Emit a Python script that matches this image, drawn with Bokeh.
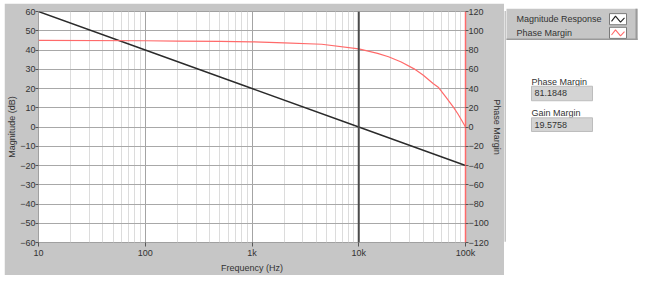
from bokeh.plotting import figure
from bokeh.layouts import row
from bokeh.models import Range1d, LinearAxis, FixedTicker, Span
from bokeh.core.properties import value
from bokeh.embed import file_html
from bokeh.resources import INLINE

# ---- data ----
freq_mag = [10, 100, 1000, 10000, 100000]
mag_db = [60, 40, 20, 0, -20]

freq_phase = [10, 100, 200, 500, 1000, 2000, 4500, 10000, 15000, 19000,
              25000, 33000, 40000, 50000, 56000, 65000, 77000, 85000, 92000, 100000]
phase_deg = [89.9, 89.6, 89.3, 89.0, 88.5, 87.5, 86.0, 81.2, 76.5, 73.0,
             67.5, 60.4, 54.0, 45.0, 41.0, 31.5, 20.6, 13.5, 7.0, 0.0]

x_ticks = [10, 100, 1000, 10000, 100000]
x_tick_labels = ["10", "100", "1k", "10k", "100k"]
x_minor = [m * d for d in [10, 100, 1000, 10000] for m in range(2, 10)]
mag_ticks = list(range(-60, 61, 10))
phase_ticks = list(range(-120, 121, 20))
cursor_freq = 10000

legend_labels = ["Magnitude Response", "Phase Margin"]
indicator_labels = ["Phase Margin", "Gain Margin"]
indicator_values = [81.1848, 19.5758]

FONT = "Liberation Sans"
PANEL = "#c6c6c6"
TXT = "#333333"
RED = "#ff6a6a"

# ---- main graph ----
p = figure(frame_width=427, frame_height=231, x_axis_type="log",
           x_range=Range1d(10, 100000), y_range=Range1d(-60, 60),
           output_backend="svg", toolbar_location=None,
           min_border_left=34, min_border_right=38, min_border_top=8, min_border_bottom=31,
           background_fill_color="white", border_fill_color=PANEL,
           outline_line_color="#a0a0a0", margin=(3, 0, 0, 4))
p.extra_y_ranges = {"phase": Range1d(-120, 120)}

xa = p.xaxis[0]
xa.ticker = FixedTicker(ticks=x_ticks, minor_ticks=x_minor)
xa.major_label_overrides = dict(zip(x_ticks, x_tick_labels))
xa.axis_label = "Frequency (Hz)"

ya = p.yaxis[0]
ya.ticker = FixedTicker(ticks=mag_ticks)
ya.axis_label = "Magnitude (dB)"

yr = LinearAxis(y_range_name="phase", ticker=FixedTicker(ticks=phase_ticks),
                axis_label="Phase Margin")
p.add_layout(yr, "right")

for ax in (xa, ya, yr):
    ax.major_label_text_font = FONT
    ax.major_label_text_font_size = "9px"
    ax.major_label_text_color = TXT
    ax.axis_label_text_font = FONT
    ax.axis_label_text_font_size = "9px"
    ax.axis_label_text_font_style = "normal"
    ax.axis_label_text_color = TXT
    ax.major_tick_in = 0
    ax.major_tick_out = 3
    ax.major_tick_line_color = "#555555"
    ax.minor_tick_line_color = None
    ax.major_label_standoff = 0
    ax.axis_label_standoff = 0
    ax.axis_line_color = None
xa.major_tick_out = 4
xa.major_label_standoff = 1
xa.axis_label_standoff = 2
yr.axis_line_color = RED
yr.axis_line_width = 1.5

p.xgrid.grid_line_color = "#a4a4a4"
p.xgrid.minor_grid_line_color = "#dcdcdc"
p.ygrid.grid_line_color = "#a8a8a8"

p.line(freq_mag, mag_db, line_color="#2b2b2b", line_width=1.4)
p.line(freq_phase, phase_deg, y_range_name="phase", line_color=RED, line_width=1.2)
p.add_layout(Span(location=cursor_freq, dimension="height", line_color="#4a4a4a", line_width=2))

# ---- side panel (legend + indicators), coordinates = page pixels ----
s = figure(width=142, height=281, x_range=Range1d(505, 647), y_range=Range1d(281, 0),
           output_backend="svg", toolbar_location=None, min_border=0,
           x_axis_location=None, y_axis_location=None,
           outline_line_color=None, background_fill_color="white", border_fill_color="white")
s.grid.visible = False

# panel shadow
s.quad(left=505, right=506, top=3, bottom=273, fill_color="#8c8c8c", line_color=None)
# legend box
s.quad(left=507, right=638, top=0, bottom=37, fill_color=PANEL, line_color=None)
s.quad(left=636, right=638, top=0, bottom=37, fill_color="#9a9a9a", line_color=None)
s.quad(left=507, right=638, top=35, bottom=37, fill_color="#9a9a9a", line_color=None)
s.text(x=[517, 517], y=[12.5, 28.5], text=legend_labels, text_font=value(FONT),
       text_font_size="9px", text_baseline="middle", text_color=TXT)
s.quad(left=[610, 610], right=[627, 627], top=[6, 22], bottom=[19, 35],
       fill_color="white", line_color="#7a7a7a", line_width=1)
s.multi_line(xs=[[612, 616, 621, 625], [612, 616, 621, 625]],
             ys=[[15, 9, 16, 11], [31, 25, 32, 27]],
             line_color=["#222222", RED], line_width=1.1)

# indicators
s.text(x=[532, 532], y=[86, 122], text=indicator_labels, text_font=value(FONT),
       text_font_size="9px", text_baseline="middle", text_color=TXT)
s.quad(left=[532, 532], right=[593, 593], top=[91, 128], bottom=[108, 144],
       fill_color="#d4d4d4", line_color="#bdbdbd")
s.text(x=[535, 535], y=[99.5, 136], text=[f"{v:.4f}" for v in indicator_values],
       text_font=value(FONT), text_font_size="9px", text_baseline="middle", text_color=TXT)

layout = row(p, s)
open("out.html", "w").write(file_html(layout, INLINE))
